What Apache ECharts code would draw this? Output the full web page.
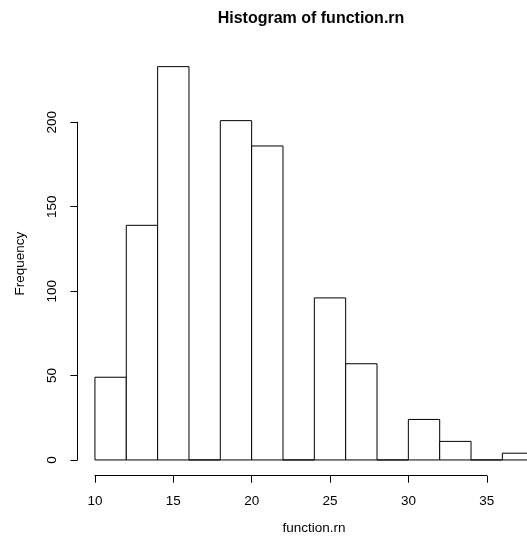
<!DOCTYPE html>
<html>
<head>
<meta charset="utf-8">
<script src="https://cdn.jsdelivr.net/npm/echarts@6/dist/echarts.min.js"></script>
<style>html,body{margin:0;padding:0;background:#fff;}#c{width:527px;height:541px;}</style>
</head>
<body>
<div id="c"></div>
<script>
const binStarts = [10, 12, 14, 16, 18, 20, 22, 24, 26, 28, 30, 32, 34, 36];
const counts = [49, 139, 233, 0, 201, 186, 0, 96, 57, 0, 24, 11, 0, 4];
const binWidth = 2;
const xTicks = [10, 15, 20, 25, 30, 35];
const yTicks = [0, 50, 100, 150, 200];
const titleText = 'Histogram of function.rn';
const xName = 'function.rn';
const yName = 'Frequency';

const FONT = 'Liberation Sans, Arial, Helvetica, sans-serif';
const PX_PER_X = 391.75 / 25;          // pixels per x unit
const xMin = 10 - 0.04 * 28;
const gridW = 527 - 77.4;
const xMax = xMin + gridW / PX_PER_X;  // visible range ends at the window edge
const yMin = -0.04 * 233, yMax = 233 + 0.04 * 233;

const chart = echarts.init(document.getElementById('c'), null, {renderer: 'canvas'});
const data = binStarts.map((b, i) => [b, counts[i]]);

chart.setOption({
  animation: false,
  backgroundColor: '#fff',
  title: [{
    text: titleText, left: 306, top: 6, textAlign: 'center',
    textStyle: {fontSize: 16, fontWeight: 'bold', fontFamily: FONT, color: '#000'}
  }, {
    text: xName, left: 309, top: 516, textAlign: 'center',
    textStyle: {fontSize: 13.5, fontWeight: 'normal', fontFamily: FONT, color: '#000'}
  }],
  graphic: [{
    type: 'text', x: 20, y: 263.7, rotation: Math.PI / 2,
    style: {text: yName, fontSize: 13.5, fontFamily: FONT, fill: '#000', align: 'center', verticalAlign: 'middle'}
  }],
  grid: [
    {left: 77.4, top: 50.9, width: gridW, height: 424.8},
    {left: 77.4, top: 122.3, width: 10, height: 337.7},
    {left: 95, top: 474.7, width: 391.75, height: 1}
  ],
  xAxis: [
    {gridIndex: 0, type: 'value', min: xMin, max: xMax, show: false},
    {gridIndex: 1, type: 'value', min: 0, max: 1, show: false},
    {gridIndex: 2, type: 'value', min: xTicks[0], max: xTicks[xTicks.length - 1], interval: 5, position: 'bottom',
     axisLine: {show: true, lineStyle: {color: '#000', width: 1}},
     axisTick: {show: true, length: 7, lineStyle: {color: '#000'}},
     axisLabel: {show: true, margin: 19, fontSize: 13.5, fontFamily: FONT, color: '#000'},
     splitLine: {show: false}}
  ],
  yAxis: [
    {gridIndex: 0, type: 'value', min: yMin, max: yMax, show: false},
    {gridIndex: 1, type: 'value', min: yTicks[0], max: yTicks[yTicks.length - 1], interval: 50, position: 'left',
     axisLine: {show: true, lineStyle: {color: '#000', width: 1}},
     axisTick: {show: true, length: 7, lineStyle: {color: '#000'}},
     axisLabel: {show: true, rotate: 90, margin: 18, fontSize: 13.5, fontFamily: FONT, color: '#000'},
     splitLine: {show: false}},
    {gridIndex: 2, type: 'value', min: 0, max: 1, show: false}
  ],
  series: [{
    type: 'custom',
    xAxisIndex: 0, yAxisIndex: 0,
    clip: false,
    data: data,
    renderItem: function (params, api) {
      const x0 = api.value(0), y = api.value(1);
      const p0 = api.coord([x0, 0]);
      const p1 = api.coord([x0 + binWidth, y]);
      return {
        type: 'rect',
        shape: {x: p0[0], y: p1[1], width: p1[0] - p0[0], height: p0[1] - p1[1]},
        style: {fill: '#fff', stroke: '#000', lineWidth: 1}
      };
    }
  }]
});
</script>
</body>
</html>
